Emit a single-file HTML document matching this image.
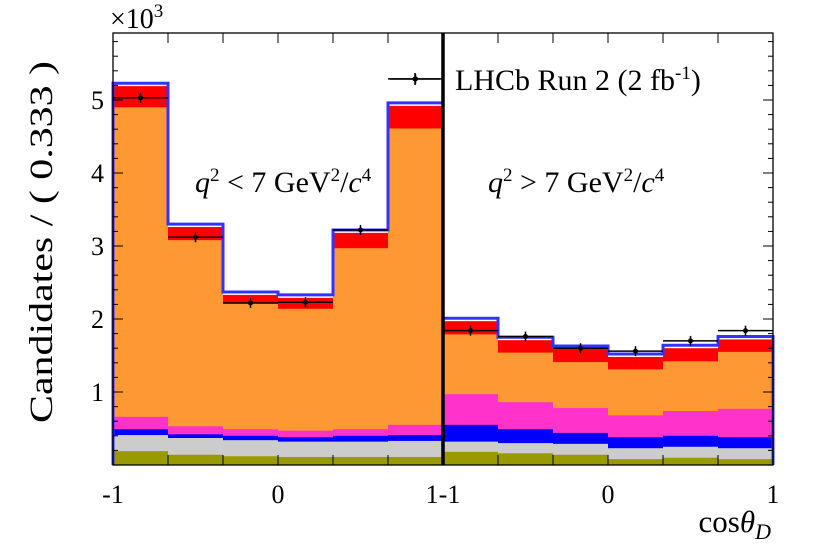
<!DOCTYPE html>
<html><head><meta charset="utf-8"><style>
body{margin:0;background:#fff;}
svg text{font-family:"Liberation Serif",serif;}
</style></head><body>
<svg id="c" width="814" height="554" xmlns="http://www.w3.org/2000/svg"></svg>
<script>
const leftOlive=[0.19,0.14,0.12,0.11,0.11,0.11];
const leftGray=[0.41,0.37,0.34,0.32,0.32,0.33];
const leftBlue=[0.49,0.42,0.40,0.38,0.40,0.41];
const leftPink=[0.66,0.53,0.49,0.47,0.49,0.55];
const leftOrange=[4.90,3.08,2.22,2.14,2.97,4.61];
const leftRed=[5.19,3.26,2.33,2.29,3.18,4.92];
const leftData=[5.03,3.12,2.22,2.23,3.22,5.29];
const rightOlive=[0.18,0.16,0.14,0.08,0.10,0.08];
const rightGray=[0.32,0.30,0.29,0.23,0.25,0.23];
const rightBlue=[0.55,0.49,0.44,0.38,0.40,0.38];
const rightPink=[0.97,0.86,0.78,0.68,0.74,0.77];
const rightOrange=[1.79,1.54,1.41,1.31,1.42,1.55];
const rightRed=[1.97,1.71,1.59,1.48,1.60,1.72];
const rightData=[1.84,1.76,1.60,1.56,1.70,1.84];
const yTicks=[1,2,3,4,5];
const xTickLabels=["-1","0","1-1","0","1"];

const svg=document.getElementById('c');
const NS="http://www.w3.org/2000/svg";
const X0=113,X1=773,XM=443,Y0=465,Ytop=33,PX=73;
function yS(v){return Y0-v*PX;}
function panelX(p,b){return (p?XM:X0)+b*55;}
function el(t,a,parent){const e=document.createElementNS(NS,t);for(const k in a)e.setAttribute(k,a[k]);(parent||svg).appendChild(e);return e;}
function txt(x,y,s,size,anchor,name,extra){const e=el('text',Object.assign({x:x,y:y,'font-size':size,'text-anchor':anchor||'start'},extra||{}));e.innerHTML=s;return e;}

const layers=[["red","#ff0000"],["orange","#fe9833"],["pink","#ff33cc"],["blue","#0000ff"],["gray","#cccccc"],["olive","#999900"]];
const L={red:[leftRed,rightRed],orange:[leftOrange,rightOrange],pink:[leftPink,rightPink],blue:[leftBlue,rightBlue],gray:[leftGray,rightGray],olive:[leftOlive,rightOlive]};
for(let p=0;p<2;p++){
  for(const [n,col] of layers){
    const arr=L[n][p];
    for(let b=0;b<arr.length;b++){
      const r=el('rect',{x:panelX(p,b),y:yS(arr[b]),width:55,height:Y0-yS(arr[b]),fill:col});
      
      
    }
  }
  const tot=p?rightRed:leftRed;
  let d='M'+panelX(p,0)+','+Y0;
  for(let b=0;b<tot.length;b++){const y=yS(tot[b]+0.04);d+=' L'+panelX(p,b)+','+y+' L'+panelX(p,b+1)+','+y;}
  d+=' L'+panelX(p,6)+','+Y0;
  const o=el('path',{d:d,fill:'none',stroke:'#3333ff','stroke-width':3});
  
  
  const dat=p?rightData:leftData;
  for(let b=0;b<dat.length;b++){
    const g=el('g',{});
    
    
    const y=yS(dat[b]),xc=panelX(p,b)+27.5;
    el('line',{x1:panelX(p,b),x2:panelX(p,b+1),y1:y,y2:y,stroke:'#000','stroke-width':1.5},g);
    el('line',{x1:xc,x2:xc,y1:y-5,y2:y+5,stroke:'#000','stroke-width':1.5},g);
    el('circle',{cx:xc,cy:y,r:2.5,fill:'#000'},g);
  }
}
const fr=el('rect',{x:X0,y:Ytop,width:X1-X0,height:Y0-Ytop,fill:'none',stroke:'#000','stroke-width':1.3});

const dv=el('line',{x1:XM,x2:XM,y1:Ytop,y2:Y0,stroke:'#000','stroke-width':3.5});

for(let v=0.2;v<5.9;v+=0.2){
  const major=Math.abs(v-Math.round(v))<0.01;const len=major?10:5;const y=yS(v);
  el('line',{x1:X0,x2:X0+len,y1:y,y2:y,stroke:'#000','stroke-width':1});
  el('line',{x1:X1,x2:X1-len,y1:y,y2:y,stroke:'#000','stroke-width':1});
}
yTicks.forEach(v=>txt(104,yS(v)+9,String(v),26,'end','y-tick-label-'+v));
for(let p=0;p<2;p++)for(let b=1;b<6;b++){const x=panelX(p,b);
  el('line',{x1:x,x2:x,y1:Y0,y2:Y0-10,stroke:'#000'});el('line',{x1:x,x2:x,y1:Ytop,y2:Ytop+10,stroke:'#000'});}
const xPos=[X0,278,XM,608,X1];
xTickLabels.forEach((s,i)=>txt(xPos[i],503,s,26,'middle','x-tick-label-'+i));
txt(110,28,'×10<tspan font-size="19" dy="-11">3</tspan>',28,'start','y-exponent');
txt(52,242,'Candidates / ( 0.333 )',33,'middle','y-axis-title',{transform:'rotate(-90 52 242)',textLength:362,lengthAdjust:'spacingAndGlyphs'});
txt(771,532,'cos<tspan font-style="italic">θ</tspan><tspan font-style="italic" font-size="22" dy="7">D</tspan>',31,'end','x-axis-title');
txt(195,192,'<tspan font-style="italic">q</tspan><tspan font-size="19" dy="-11">2</tspan><tspan dy="11"> &lt; 7 GeV</tspan><tspan font-size="19" dy="-11">2</tspan><tspan dy="11">/</tspan><tspan font-style="italic">c</tspan><tspan font-size="19" dy="-11">4</tspan>',30,'start','label-low-q2');
txt(488,192,'<tspan font-style="italic">q</tspan><tspan font-size="19" dy="-11">2</tspan><tspan dy="11"> &gt; 7 GeV</tspan><tspan font-size="19" dy="-11">2</tspan><tspan dy="11">/</tspan><tspan font-style="italic">c</tspan><tspan font-size="19" dy="-11">4</tspan>',30,'start','label-high-q2');
const lg=el('g',{});
el('line',{x1:390,x2:440,y1:79,y2:79,stroke:'#000','stroke-width':1.5},lg);
el('line',{x1:415,x2:415,y1:73,y2:85,stroke:'#000','stroke-width':1.5},lg);
el('circle',{cx:415,cy:79,r:2.5,fill:'#000'},lg);
txt(455,90,'LHCb Run 2 (2 fb<tspan font-size="19" dy="-11">-1</tspan><tspan dy="11">)</tspan>',30,'start','legend-label');
</script>
</body></html>
